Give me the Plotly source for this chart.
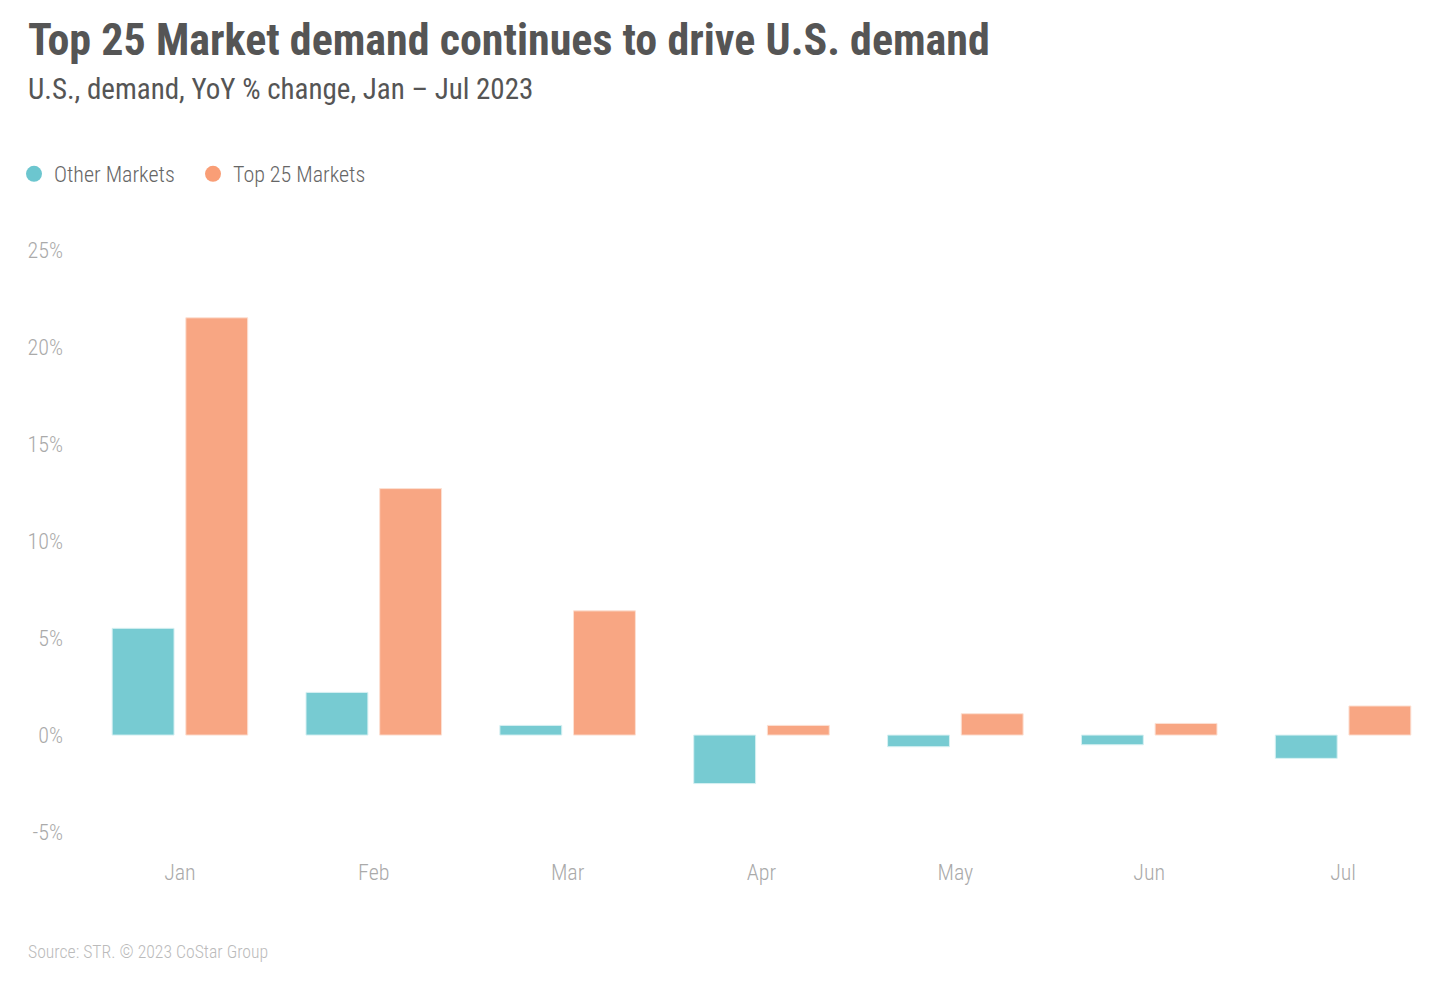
import plotly.graph_objects as go

months = ["Jan", "Feb", "Mar", "Apr", "May", "Jun", "Jul"]
other_markets = [5.5, 2.2, 0.5, -2.5, -0.6, -0.5, -1.2]
top25_markets = [21.5, 12.7, 6.4, 0.5, 1.1, 0.6, 1.5]
tick_vals = [-5, 0, 5, 10, 15, 20, 25]
tick_text = ["-5%", "0%", "5%", "10%", "15%", "20%", "25%"]

TEAL = "#77CBD2"
SALMON = "#F8A683"
TEAL_DOT = "#6CC6CF"
SALMON_DOT = "#F99E76"
FONT = "Roboto Condensed, Liberation Sans Narrow, Roboto, sans-serif"

W, H = 1442, 982
OFF = 8  # page body margin
# screen-space plot box
SL, SR, ST, SB = 83, 1440, 246, 836
ML, MT = SL - OFF, ST - OFF
MR = W - (SR - OFF)
MB = H - (SB - OFF)
PW, PH = W - ML - MR, H - MT - MB

def px(x):
    return (x - OFF - ML) / PW

def py(y):
    return (H - MB - (y - OFF)) / PH

fig = go.Figure()
fig.add_trace(go.Bar(x=months, y=other_markets, name="Other Markets",
                     marker=dict(color=TEAL, line=dict(color="#D6F0F2", width=1)),
                     showlegend=False, legendgroup="o"))
fig.add_trace(go.Bar(x=months, y=top25_markets, name="Top 25 Markets",
                     marker=dict(color=SALMON, line=dict(color="#FCE0D3", width=1)),
                     showlegend=False, legendgroup="t"))
fig.add_trace(go.Scatter(x=[None], y=[None], mode="markers", name="Other Markets",
                         marker=dict(color=TEAL_DOT, size=17, symbol="circle"), legendgroup="o"))
fig.add_trace(go.Scatter(x=[None], y=[None], mode="markers", name="Top 25 Markets",
                         marker=dict(color=SALMON_DOT, size=17, symbol="circle"), legendgroup="t"))

fig.update_layout(
    width=W, height=H,
    margin=dict(l=ML, r=MR, t=MT, b=MB, autoexpand=False),
    paper_bgcolor="white", plot_bgcolor="white",
    barmode="group", bargap=0.24, bargroupgap=0.16,
    font=dict(family=FONT, color="#555555"),
    title=dict(text="<b>Top 25 Market demand continues to drive U.S. demand</b>",
               x=(28 - OFF) / W, xanchor="left", xref="container",
               y=1 - (40 - OFF) / H, yanchor="middle", yref="container",
               font=dict(size=44, color="#555555", family=FONT)),
    legend=dict(orientation="h", x=px(14), xanchor="left", y=py(174), yanchor="middle",
                font=dict(size=22, color="#666666", family=FONT, weight=300),
                itemwidth=30, traceorder="normal", bgcolor="rgba(0,0,0,0)",
                entrywidth=134, entrywidthmode="pixels"),
    xaxis=dict(showgrid=False, showline=False, zeroline=False,
               tickfont=dict(size=22, color="#AAAAAA", family=FONT, weight=300),
               ticks="", ticklabelstandoff=21, fixedrange=True),
    yaxis=dict(range=[-5.2, 25.2], tickvals=tick_vals, ticktext=tick_text,
               showgrid=False, showline=False, zeroline=False,
               tickfont=dict(size=22, color="#AAAAAA", family=FONT, weight=300),
               ticks="", ticklabelstandoff=19, fixedrange=True),
    annotations=[
        dict(text="U.S., demand, YoY % change, Jan \u2013 Jul 2023", xref="paper", yref="paper",
             x=px(26), y=py(89), xanchor="left", yanchor="middle", showarrow=False,
             font=dict(size=29, color="#555555", family=FONT)),
        dict(text="Source: STR. \u00a9 2023 CoStar Group", xref="paper", yref="paper",
             x=px(26), y=py(952), xanchor="left", yanchor="middle", showarrow=False,
             font=dict(size=17.7, color="#BBBBBB", family=FONT, weight=300)),
    ],
)

fig.write_html("out.html")
